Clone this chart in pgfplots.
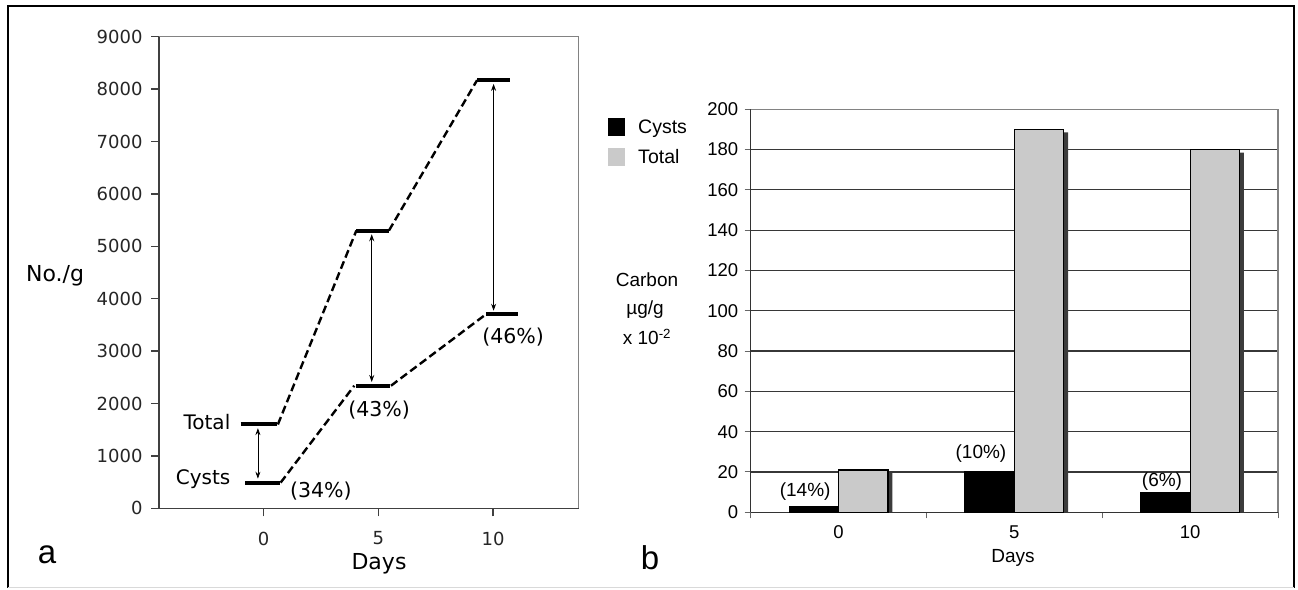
\documentclass[border=0pt]{standalone}
\usepackage{pgfplots}
\pgfplotsset{compat=1.18}
\usepackage{fontspec}
\setmainfont{Liberation Sans}
\newfontfamily\lfont{DejaVu Sans}
\usetikzlibrary{arrows.meta}
\definecolor{barg}{RGB}{202,202,202}
\definecolor{shad}{RGB}{60,60,60}
\definecolor{gridc}{RGB}{55,55,55}
\definecolor{boxg}{RGB}{130,130,130}

\begin{document}
\begin{tikzpicture}[x=1pt,y=1pt]
\path[use as bounding box] (0,0) rectangle (1298,589);
\draw[line width=2pt] (7.7,1) -- (7.7,583) -- (1294,583) -- (1294,1);
\draw[line width=1pt, black!15] (7.7,1.5) -- (1294,1.5);

% ---- panel a
\begin{axis}[
  at={(159pt,80.7pt)}, anchor=south west,
  scale only axis, width=419.5pt, height=471.6pt,
  xmin=-4.56, xmax=13.72, ymin=0, ymax=9000,
  axis lines*=left,
  axis line style={line width=1.3pt, black!75},
  xtick={0,5,10}, ytick={0,1000,...,9000},
  tick align=outside, major tick length=8pt,
  tick style={line width=1.3pt, black!75},
  tick label style={font=\lfont\fontsize{18}{21}\selectfont, text=black!85},
  xticklabel style={yshift=-12pt},
  yticklabel style={xshift=-5pt},
  /pgf/number format/assume math mode=true,
  /pgf/number format/set thousands separator={},
  clip=false,
]
\draw[line width=1.3pt, boxg] (rel axis cs:0,1) -| (rel axis cs:1,0);
% dashed links
\addplot[line width=2.4pt, dash pattern=on 8pt off 4pt] coordinates {(0.62,1600) (4.04,5300)};
\addplot[line width=2.4pt, dash pattern=on 8pt off 4pt] coordinates {(5.46,5300) (9.30,8170)};
\addplot[line width=2.4pt, dash pattern=on 8pt off 4pt] coordinates {(0.74,490) (3.95,2340)};
\addplot[line width=2.4pt, dash pattern=on 8pt off 4pt] coordinates {(5.55,2340) (9.68,3700)};
% plateaus: Total
\addplot[line width=4pt] coordinates {(-1.00,1600) (0.57,1600)};
\addplot[line width=4pt] coordinates {(4.04,5300) (5.46,5300)};
\addplot[line width=4pt] coordinates {(9.30,8170) (10.72,8170)};
% plateaus: Cysts
\addplot[line width=4pt] coordinates {(-0.80,490) (0.70,490)};
\addplot[line width=4pt] coordinates {(4.04,2340) (5.51,2340)};
\addplot[line width=4pt] coordinates {(9.68,3700) (11.09,3700)};
% difference arrows
\addplot[line width=0.8pt, {Stealth[length=7pt,width=5pt]}-{Stealth[length=7pt,width=5pt]}] coordinates {(-0.25,1530) (-0.25,565)};
\addplot[line width=0.8pt, {Stealth[length=7pt,width=5pt]}-{Stealth[length=7pt,width=5pt]}] coordinates {(4.71,5230) (4.71,2410)};
\addplot[line width=0.8pt, {Stealth[length=7pt,width=5pt]}-{Stealth[length=7pt,width=5pt]}] coordinates {(10.02,8100) (10.02,3770)};
\node[anchor=east, font=\lfont\fontsize{20}{23}\selectfont] at (axis cs:-1.3,1650) {Total};
\node[anchor=east, font=\lfont\fontsize{20}{23}\selectfont] at (axis cs:-1.3,560) {Cysts};
\node[anchor=west, font=\lfont\fontsize{20.5}{23}\selectfont] at (axis cs:1.0,330) {(34\%)};
\node[font=\lfont\fontsize{20.5}{23}\selectfont] at (axis cs:5.03,1870) {(43\%)};
\node[font=\lfont\fontsize{20.5}{23}\selectfont] at (axis cs:10.87,3270) {(46\%)};
\end{axis}
\node[font=\lfont\fontsize{22}{25}\selectfont] at (55pt,313pt) {No./g};
\node[font=\lfont\fontsize{22}{25}\selectfont] at (379pt,25pt) {Days};
\node[font=\fontsize{33}{37}\selectfont] at (47pt,34pt) {a};

% ---- panel b
\begin{axis}[
  at={(750.7pt,76.7pt)}, anchor=south west,
  scale only axis, width=527.3pt, height=403pt,
  ybar=0pt, bar width=49.5pt,
  xmin=-0.5, xmax=2.5, ymin=0, ymax=200,
  axis lines*=left,
  axis line style={line width=1.3pt, black!80},
  xtick={-0.5,0.5,1.5,2.5}, xticklabels={},
  extra x ticks={0,1,2}, extra x tick labels={0,5,10},
  extra x tick style={tick style={draw=none}},
  ytick={0,20,...,200},
  ymajorgrids, grid style={line width=1.2pt, gridc},
  tick align=outside, major tick length=6pt,
  tick style={line width=1pt, black!60},
  tick label style={font=\fontsize{18.5}{21}\selectfont},
  xticklabel style={yshift=-4pt},
  yticklabel style={xshift=-3pt},
  /pgf/number format/assume math mode=true,
  legend style={at={(-0.277,0.985)}, anchor=north west, draw=none, fill=none,
    font=\fontsize{19.5}{22}\selectfont, row sep=11pt},
  legend cell align=left,
  clip=false,
]
\draw[line width=1.3pt, boxg] (rel axis cs:0,1) -| (rel axis cs:1,0);
\addlegendimage{legend image code/.code={\fill[black] (0pt,-8pt) rectangle (16pt,9pt); \path (28pt,0pt);}}
\addlegendentry{Cysts}
\addlegendimage{legend image code/.code={\fill[barg] (0pt,-8pt) rectangle (16pt,9pt); \path (28pt,0pt);}}
\addlegendentry{Total}
% shadow of the grey bars
\addplot[forget plot, fill=shad, draw=none, bar shift=29pt] coordinates {(0,19.5) (1,188.5) (2,178.5)};
\addplot[forget plot, fill=black, draw=black, line width=1pt, bar shift=-24.75pt] coordinates {(0,3) (1,20) (2,10)};
\addplot[forget plot, fill=barg, draw=black, line width=1.2pt, bar shift=24.75pt] coordinates {(0,21) (1,190) (2,180)};
\node[font=\fontsize{19}{22}\selectfont] at (axis cs:-0.19,10.5) {(14\%)};
\node[font=\fontsize{19}{22}\selectfont] at (axis cs:0.81,29.3) {(10\%)};
\node[font=\fontsize{19}{22}\selectfont] at (axis cs:1.84,15.2) {(6\%)};
\end{axis}
\node[font=\fontsize{19}{22}\selectfont] at (647pt,309pt) {Carbon};
\node[font=\fontsize{19}{22}\selectfont] at (645pt,279pt) {µg/g};
\node[font=\fontsize{19}{22}\selectfont] at (647pt,252pt) {x 10\textsuperscript{-2}};
\node[font=\fontsize{19}{22}\selectfont] at (1013pt,31pt) {Days};
\node[font=\fontsize{33}{37}\selectfont] at (650pt,31pt) {b};
\end{tikzpicture}
\end{document}
